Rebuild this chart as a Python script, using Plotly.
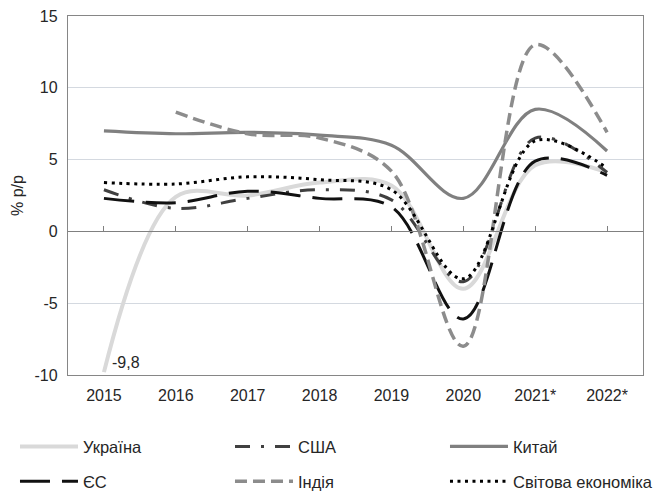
import plotly.graph_objects as go

years = ["2015", "2016", "2017", "2018", "2019", "2020", "2021*", "2022*"]
ukraine = [-9.8, 2.4, 2.5, 3.4, 3.2, -4.0, 4.6, 4.1]
usa = [2.9, 1.6, 2.3, 2.9, 2.2, -3.5, 6.5, 4.1]
china = [7.0, 6.8, 6.9, 6.7, 6.0, 2.3, 8.5, 5.6]
eu = [2.3, 2.0, 2.8, 2.3, 1.7, -6.1, 4.9, 3.9]
india = [None, 8.3, 6.8, 6.5, 4.2, -8.0, 13.0, 6.9]
world = [3.4, 3.3, 3.8, 3.6, 2.9, -3.3, 6.3, 4.4]
ytick_vals = [-10, -5, 0, 5, 10, 15]
ytick_text = ["-10", "-5", "0", "5", "10", "15"]

FONT = "Liberation Sans, Arial, sans-serif"
TXT = "#262626"

fig = go.Figure()

def add(name, y, color, width, dash, legend):
    fig.add_trace(go.Scatter(
        x=years, y=y, name=name, mode="lines",
        line=dict(color=color, width=width, dash=dash, shape="spline", smoothing=1.0),
        legend=legend, connectgaps=False, hoverinfo="skip"))

add("Україна", ukraine, "#d9d9d9", 4, "solid", "legend")
add("США", usa, "#404040", 3, "15px,11px,3px,11px", "legend")
add("Китай", china, "#808080", 3.2, "solid", "legend")
add("ЄС", eu, "#111111", 3, "30px,12px", "legend2")
add("Індія", india, "#8c8c8c", 3.5, "12px,6px", "legend2")
add("Світова економіка", world, "#000000", 3, "3px,4.5px", "legend2")

# helper trace for the zero-crossing category axis with tick marks
fig.add_trace(go.Scatter(x=years, y=[0] * len(years), xaxis="x2", mode="markers",
                         marker=dict(opacity=0), showlegend=False, hoverinfo="skip"))

fig.add_annotation(x=years.index("2015"), y=ukraine[0], xref="x", yref="y",
                   text="-9,8", showarrow=False,
                   xanchor="left", yanchor="middle", xshift=6, yshift=10,
                   font=dict(family=FONT, size=16, color=TXT))

legend_common = dict(orientation="h", x=-0.0922, xanchor="left", yanchor="top",
                     entrywidth=142, entrywidthmode="pixels", itemwidth=58,
                     font=dict(size=16.5, color=TXT),
                     bgcolor="rgba(0,0,0,0)", tracegroupgap=0)

fig.update_layout(
    width=656, height=493,
    margin=dict(l=68, r=13, t=16, b=118, autoexpand=False),
    plot_bgcolor="white", paper_bgcolor="white",
    font=dict(family=FONT, size=16, color=TXT),
    xaxis=dict(type="category", categoryorder="array", categoryarray=years,
               range=[-0.5, 7.5], showgrid=False, showline=True, linecolor="#868686",
               linewidth=1.3, mirror=True, ticks="", ticklabelstandoff=6,
               tickfont=dict(size=16, color=TXT)),
    xaxis2=dict(type="category", categoryorder="array", categoryarray=years,
                range=[-0.5, 7.5], overlaying="x", anchor="free", position=0.4,
                side="bottom", showgrid=False, showline=True, linecolor="#808080",
                linewidth=1.3, ticks="inside", ticklen=5, tickcolor="#808080",
                showticklabels=False),
    yaxis=dict(range=[-10, 15], tickvals=ytick_vals, ticktext=ytick_text,
               showgrid=True, gridcolor="#d4d9e0",
               gridwidth=1, zeroline=False, showline=True, linecolor="#868686",
               linewidth=1.3, mirror=True, ticks="", ticklabelstandoff=6,
               tickfont=dict(size=16, color=TXT),
               title=dict(text="% р/р", font=dict(size=16, color=TXT), standoff=6)),
    legend=dict(legend_common, y=-0.151),
    legend2=dict(legend_common, y=-0.2477),
    showlegend=True,
)

fig.write_html("out.html", post_script="document.body.style.margin='0';",
               config={"displayModeBar": False})
